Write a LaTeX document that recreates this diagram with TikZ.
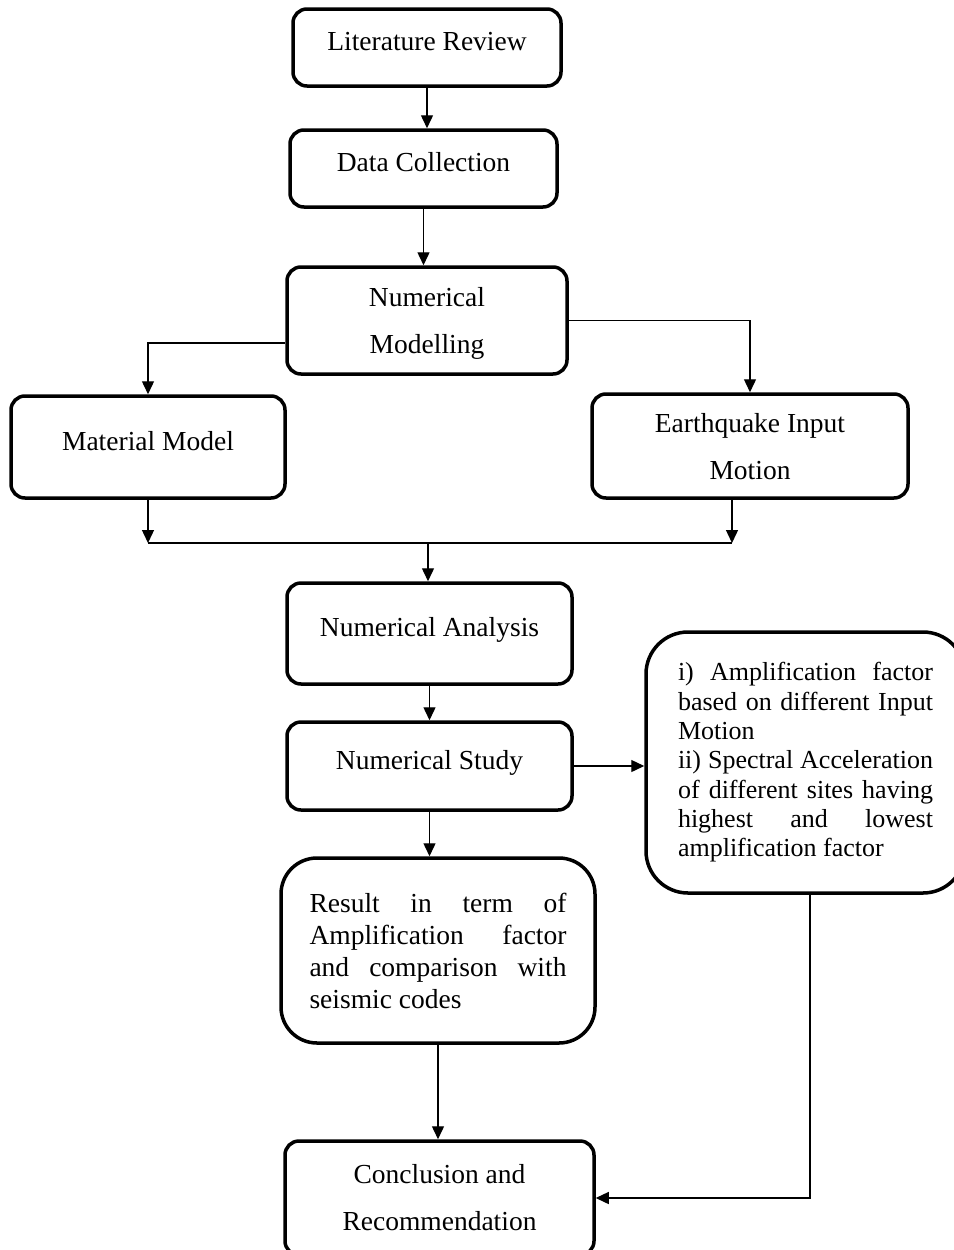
\documentclass[tikz,border=0pt]{standalone}
\usepackage{fontspec}
\setmainfont{Liberation Serif}
\usetikzlibrary{arrows.meta,positioning,calc}

\begin{document}
\begin{tikzpicture}[x=1pt,y=-1pt,line width=1.4pt,
	>={Triangle[length=13pt,width=12pt]},
	box/.style={draw,line width=3.5pt,rounded corners=14pt,align=center,
		font=\fontsize{27.5}{47}\selectfont},
	oneline/.style={box,text depth=13pt},
	twoline/.style={box,text depth=-14pt},
	bigbox/.style={draw,line width=3.5pt,rounded corners=42pt,align=justify}]
	\useasboundingbox (0,0) rectangle (953,1250);

	\node[oneline,minimum width=268pt,minimum height=77pt] at (427,47.5) (LR) {Literature Review};
	\node[oneline,minimum width=267pt,minimum height=77pt] at (423.5,168.5) (DC) {Data Collection};
	\node[twoline,minimum width=280pt,minimum height=107pt] at (427,320.5) (NM) {Numerical\\Modelling};
	\node[oneline,minimum width=274pt,minimum height=102pt] at (148,447) (MM) {Material Model};
	\node[twoline,minimum width=316pt,minimum height=104pt] at (750,446) (EIM) {Earthquake Input\\Motion};
	\node[oneline,minimum width=285pt,minimum height=101pt] at (429.5,633.5) (NA) {Numerical Analysis};
	\node[oneline,minimum width=285pt,minimum height=88pt] at (429.5,766) (NS) {Numerical Study};
	\node[bigbox,minimum width=319pt,minimum height=261pt,text width=255pt,
		font=\fontsize{26}{29.3}\selectfont] at (805.5,762.5) (OUT)
		{i) Amplification factor\linebreak based on different Input\linebreak Motion\par
		ii) Spectral Acceleration\linebreak of different sites having\linebreak
		highest and lowest\linebreak amplification factor};
	\node[bigbox,rounded corners=36pt,minimum width=314pt,minimum height=185pt,text width=257pt,
		font=\fontsize{27.5}{32}\selectfont] at (438,950.5) (RES)
		{Result in term of\linebreak Amplification factor\linebreak and comparison with\linebreak seismic codes};
	\node[box,minimum width=309pt,minimum height=114pt] at (439.5,1198) (CR) {Conclusion and\\Recommendation};

	% joining line under the two model boxes
	\coordinate (jl) at (148,543);
	\coordinate (jr) at (732,543);
	\coordinate (jm) at (428,543);

	\draw[->] (LR.south) -- (LR.south |- DC.north);
	\draw[->] (DC.south) -- (DC.south |- NM.north);
	\draw[->] ([yshift=-22.5pt]NM.west) -| (MM.north);
	\draw[->] (NM.east) -| (EIM.north);
	\draw[->] (MM.south) -- (jl);
	\draw[->] (EIM.south -| jr) -- (jr);
	\draw (jl) -- (jr);
	\draw[->] (jm) -- (jm |- NA.north);
	\draw[->] (NA.south) -- (NA.south |- NS.north);
	\draw[->] (NS.east) -- (NS.east -| OUT.west);
	\draw[->] (NS.south) -- (NS.south |- RES.north);
	\draw[->] (RES.south) -- (RES.south |- CR.north);
	\draw[->] ([xshift=4.5pt]OUT.south) |- (CR.east);
\end{tikzpicture}
\end{document}
